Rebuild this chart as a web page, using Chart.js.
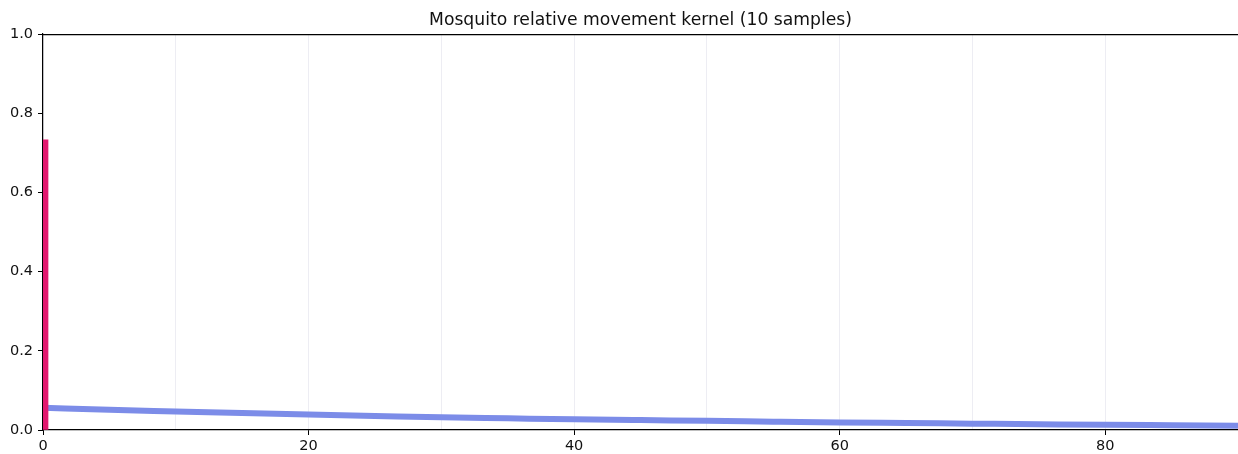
<!DOCTYPE html>
<html>
<head>
<meta charset="utf-8">
<script src="https://cdn.jsdelivr.net/npm/chart.js@4.4.1/dist/chart.umd.min.js"></script>
<style>
  html, body { margin: 0; padding: 0; background: #ffffff; }
  #wrap { width: 1238px; height: 454px; }
</style>
</head>
<body>
<div id="wrap"><canvas id="c" width="1238" height="454"></canvas></div>
<script>
// Data
const titleText = "Mosquito relative movement kernel (10 samples)";
const kernelX = [0, 5, 10, 15, 20, 25, 30, 35, 40, 45, 50, 55, 60, 65, 70, 75, 80, 85, 90];
const kernelY = [0.056, 0.051, 0.047, 0.043, 0.039, 0.0355, 0.032, 0.0295, 0.027, 0.025, 0.0232, 0.021, 0.019, 0.0175, 0.016, 0.0145, 0.013, 0.012, 0.011];
const barX = [0.19];
const barY = [0.733];
const xTickLabels = [0, 20, 40, 60, 80];
const yTickLabels = [0.0, 0.2, 0.4, 0.6, 0.8, 1.0];

const FONT = "'DejaVu Sans', sans-serif";

const topSpine = {
  id: 'topSpine',
  afterDatasetsDraw(chart) {
    const { ctx, chartArea } = chart;
    ctx.save();
    ctx.strokeStyle = '#000';
    ctx.lineWidth = 1.2;
    ctx.beginPath();
    ctx.moveTo(chartArea.left, chartArea.top + 0.5);
    ctx.lineTo(chartArea.right, chartArea.top + 0.5);
    ctx.stroke();
    ctx.restore();
  }
};

new Chart(document.getElementById('c'), {
  data: {
    datasets: [
      {
        type: 'bar',
        data: barX.map((x, i) => ({ x: x, y: barY[i] })),
        backgroundColor: '#e2186f',
        borderWidth: 0,
        barThickness: 5,
        order: 0
      },
      {
        type: 'line',
        data: kernelX.map((x, i) => ({ x: x, y: kernelY[i] })),
        borderColor: 'rgb(124,140,232)',
        borderWidth: 6,
        pointRadius: 0,
        cubicInterpolationMode: 'monotone',
        fill: false,
        order: 1
      }
    ]
  },
  options: {
    responsive: false,
    devicePixelRatio: 1,
    animation: false,
    layout: { padding: { left: 0, right: 0, top: 0, bottom: 0 } },
    plugins: {
      legend: { display: false },
      tooltip: { enabled: false },
      title: {
        display: true,
        text: titleText,
        fullSize: false,
        color: '#111',
        font: { family: FONT, size: 17.2, weight: 'normal', lineHeight: 1.2 },
        padding: { top: 10, bottom: 3.4 }
      }
    },
    scales: {
      x: {
        type: 'linear',
        min: 0,
        max: 90,
        offset: false,
        afterFit(scale) { scale.height = 24; scale.paddingRight = 0; scale.paddingLeft = 0; },
        ticks: {
          stepSize: 10,
          autoSkip: false,
          maxRotation: 0,
          color: '#111',
          padding: 3,
          font: { family: FONT, size: 14.5 },
          callback: (v) => xTickLabels.includes(v) ? String(v) : ''
        },
        grid: {
          display: true,
          offset: false,
          drawOnChartArea: true,
          drawTicks: true,
          tickLength: 5,
          color: 'rgba(220,220,232,0.5)',
          tickColor: (ctx) => (ctx.tick && xTickLabels.includes(ctx.tick.value)) ? '#000' : 'rgba(0,0,0,0)'
        },
        border: { display: true, color: '#000', width: 1.2 }
      },
      y: {
        type: 'linear',
        min: 0,
        max: 1,
        afterFit(scale) { scale.width = 43; },
        afterBuildTicks(scale) { scale.ticks = yTickLabels.map(v => ({ value: v })); },
        ticks: {
          color: '#111',
          padding: 5,
          font: { family: FONT, size: 14.5 },
          callback: (v) => Number(v).toFixed(1)
        },
        grid: {
          display: true,
          drawOnChartArea: false,
          drawTicks: true,
          tickLength: 5,
          tickColor: '#000'
        },
        border: { display: true, color: '#000', width: 1.2 }
      }
    }
  },
  plugins: [topSpine]
});
</script>
</body>
</html>
